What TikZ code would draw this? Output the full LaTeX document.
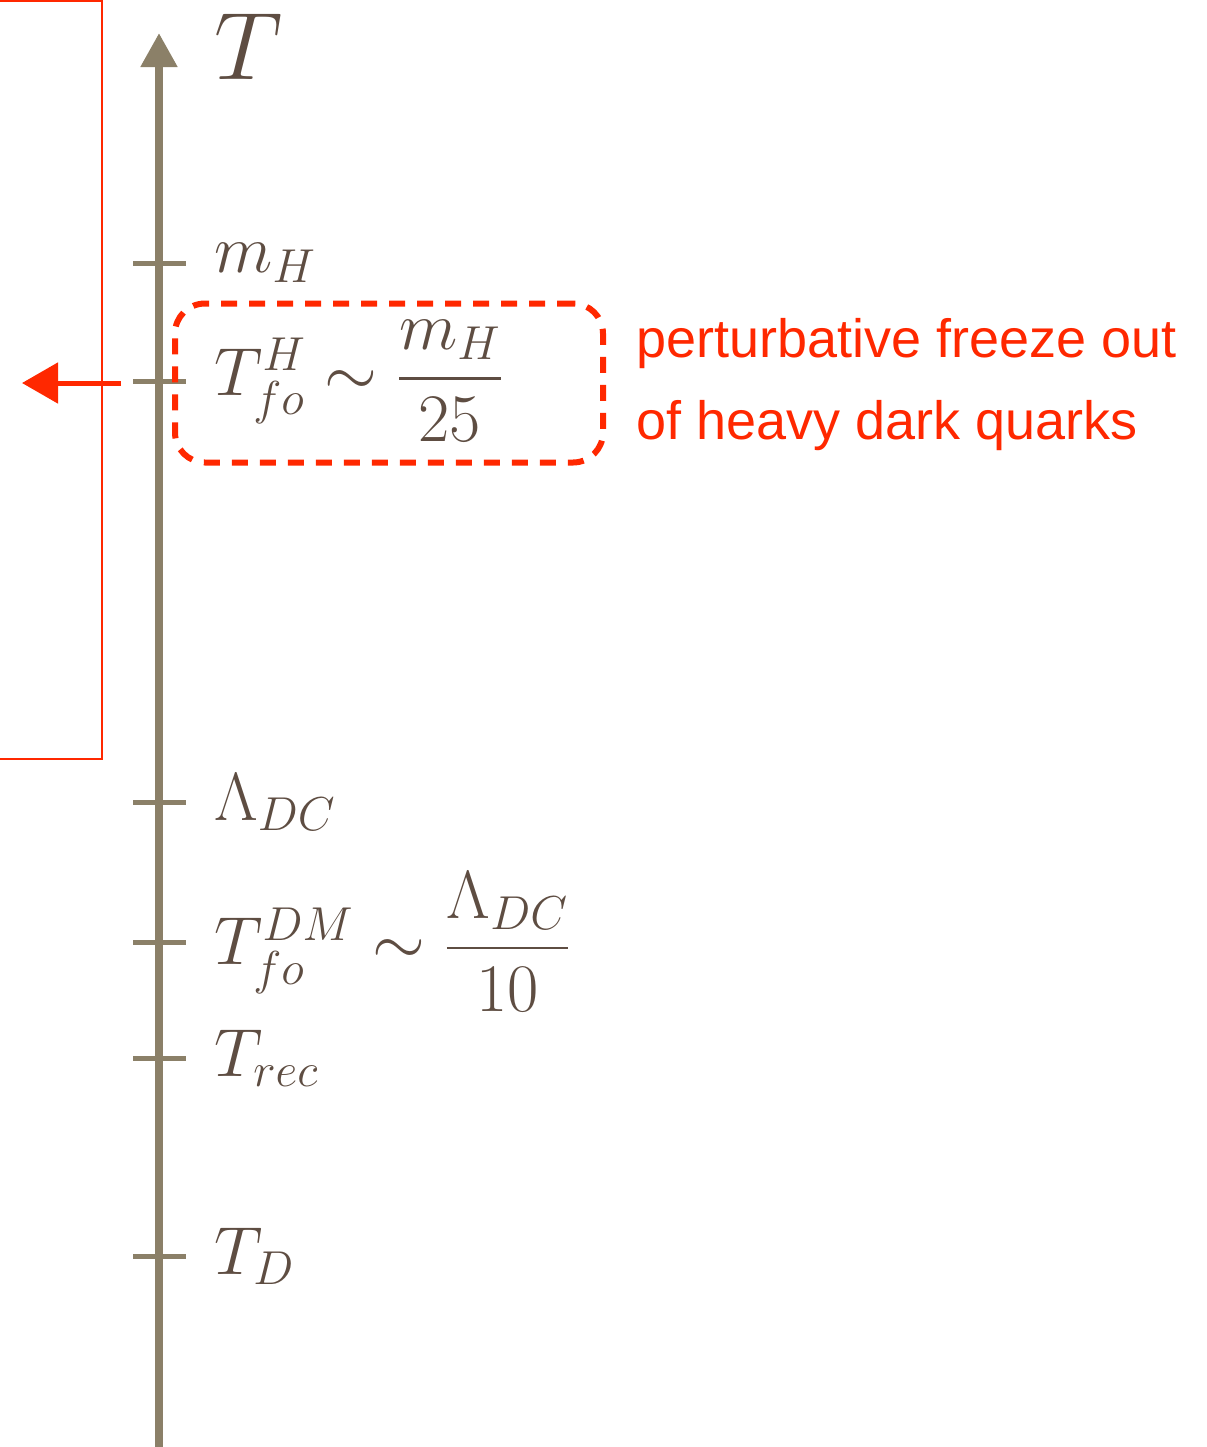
\RequirePackage{fix-cm}
\documentclass[tikz,border=0pt]{standalone}
\usepackage{amsmath,amssymb}
\usepackage{fontspec}
\newfontfamily\sansnota{Liberation Sans}
\usepackage{tikz}
\usetikzlibrary{arrows.meta,calc,positioning}
\usepackage{xcolor}

\definecolor{assecol}{RGB}{139,128,104}
\definecolor{testocol}{RGB}{94,77,66}
\definecolor{rosso}{RGB}{255,40,0}

\begin{document}
\begin{tikzpicture}[x=0.5pt, y=-0.5pt,
  every node/.style={text=testocol, font=\fontsize{34}{40}\selectfont},
  asse/.style={draw=assecol, line width=4pt, -{Triangle[width=17.5pt, length=17pt]}},
  tacca/.style={draw=assecol, line width=2.5pt},
  etic/.style={anchor=west, inner sep=0pt},
  riquadro/.style={draw=rosso, line width=3pt, dash pattern=on 8pt off 6pt,
                   rounded corners=15pt, minimum width=214pt, minimum height=79.5pt},
  freccia/.style={draw=rosso, line width=2.5pt, -{Triangle[width=20pt, length=18pt]}},
  nota/.style={text=rosso, font=\sansnota\fontsize{27}{41}\selectfont, align=left}]

\clip (0,0) rectangle (1206,1447);

% --- riquadro rosso a sinistra ---
\draw[rosso, line width=1pt] (-20,1) rectangle (102,759);

% --- asse delle temperature ---
\coordinate (abase) at (159,1450);
\coordinate (apunta) at (159,33);
\draw[asse] (abase) -- (apunta);
\node[font=\fontsize{48}{52}\selectfont] (tlab) at (249,47) {$T$};

% tacche e scale
\foreach \y/\n/\lab in {263/mH/{$m_H$}, 381/foH/{$T^{H}_{fo} \sim \dfrac{m_H}{25}$},
                        802/LDC/{$\Lambda_{DC}$}, 942/foDM/{$T^{DM}_{fo} \sim \dfrac{\Lambda_{DC}}{10}$},
                        1058/rec/{$T_{rec}$}, 1256/TD/{$T_D$}}{
  \draw[tacca] (133,\y) -- (186,\y);
  \node[etic] (l\n) at (214,\y) {\lab};
}

% --- freeze out dei quark pesanti ---
\node[riquadro] (boxH) at (389,383) {};
\coordinate (fpart) at (121,383);
\coordinate (farr) at (22,383);
\draw[freccia] (fpart) -- (farr);
\node[nota, anchor=west] (testoH) at (629,385) {perturbative freeze out\\of heavy dark quarks};

\end{tikzpicture}
\end{document}
